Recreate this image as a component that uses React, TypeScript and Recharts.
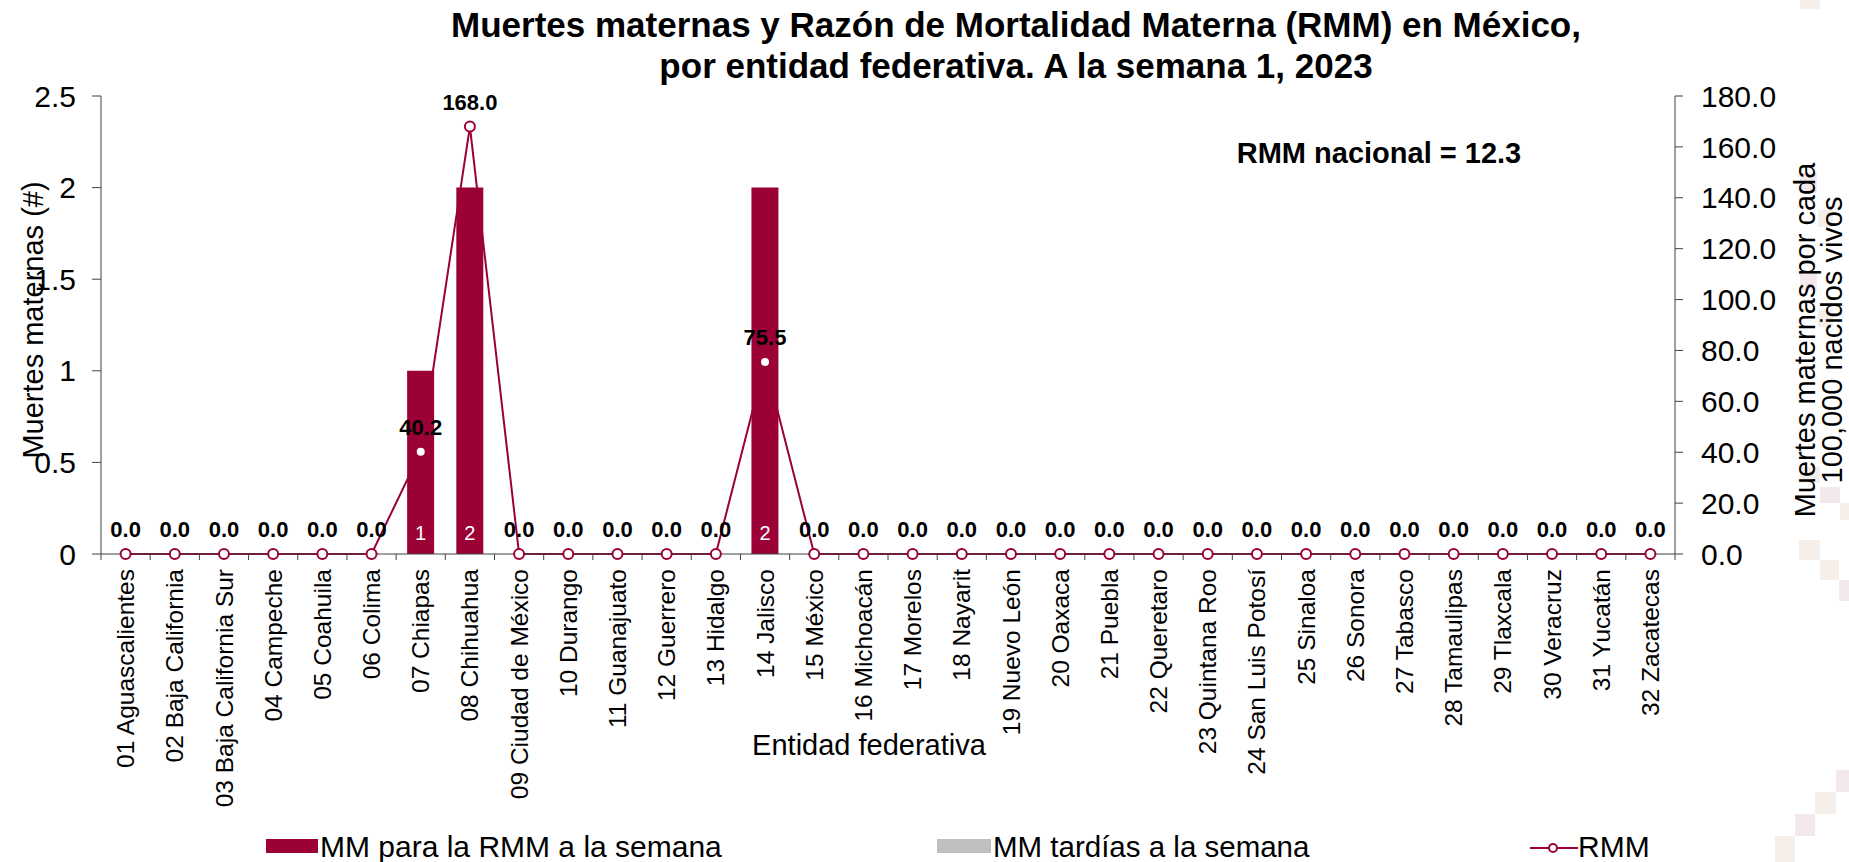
import { Bar, ComposedChart, LabelList, Line, XAxis, YAxis } from "recharts"

const entidades = [
    "01 Aguascalientes", "02 Baja California", "03 Baja California Sur", "04 Campeche",
    "05 Coahuila", "06 Colima", "07 Chiapas", "08 Chihuahua", "09 Ciudad de México",
    "10 Durango", "11 Guanajuato", "12 Guerrero", "13 Hidalgo", "14 Jalisco", "15 México",
    "16 Michoacán", "17 Morelos", "18 Nayarit", "19 Nuevo León", "20 Oaxaca", "21 Puebla",
    "22 Queretaro", "23 Quintana Roo", "24 San Luis Potosí", "25 Sinaloa", "26 Sonora",
    "27 Tabasco", "28 Tamaulipas", "29 Tlaxcala", "30 Veracruz", "31 Yucatán", "32 Zacatecas",
]

// muertes maternas para la RMM a la semana
const mmRmm = [0, 0, 0, 0, 0, 0, 1, 2, 0, 0, 0, 0, 0, 2, 0, 0, 0, 0, 0, 0, 0, 0, 0, 0, 0, 0, 0, 0, 0, 0, 0, 0]
// muertes maternas tardías
const mmTardias = [0, 0, 0, 0, 0, 0, 0, 0, 0, 0, 0, 0, 0, 0, 0, 0, 0, 0, 0, 0, 0, 0, 0, 0, 0, 0, 0, 0, 0, 0, 0, 0]
// razón de mortalidad materna
const rmm = [0, 0, 0, 0, 0, 0, 40.2, 168.0, 0, 0, 0, 0, 0, 75.5, 0, 0, 0, 0, 0, 0, 0, 0, 0, 0, 0, 0, 0, 0, 0, 0, 0, 0]

const leftTicks = [0, 0.5, 1, 1.5, 2, 2.5]
const rightTicks = [0, 20, 40, 60, 80, 100, 120, 140, 160, 180]

const CRIMSON = "#9b0036"
const GRAY = "#bfbfbf"
const AXIS = "#404040"
const FONT = "'Liberation Sans', Arial, sans-serif"

const data = entidades.map((name, i) => ({ name, mm: mmRmm[i], tardias: mmTardias[i], rmm: rmm[i] }))

// background squares on the right edge (slide decoration)
const decor = [
    [1800, 0, 20, 9, "#f6eee9"],
    [1800, 173, 17, 20, "#f3e8ec"], [1818, 210, 15, 17, "#f6eee9"],
    [1800, 273, 17, 17, "#f3e8ec"], [1818, 310, 15, 17, "#f6eee9"],
    [1800, 467, 20, 16, "#f6eee9"], [1820, 487, 20, 16, "#f3e8ec"], [1840, 503, 9, 17, "#f6eee9"],
    [1799, 540, 21, 20, "#f6eee9"], [1820, 560, 19, 20, "#f6eee9"], [1839, 580, 10, 21, "#f3e8ec"],
    [1836, 770, 13, 22, "#f3e8ec"], [1815, 792, 21, 22, "#f6eee9"], [1795, 814, 20, 22, "#f3e8ec"],
    [1775, 836, 20, 26, "#f6eee9"],
] as const

function EntidadTick(props: any) {
    const { x, y, payload, index } = props
    const half = payload?.offset || 24.6
    return (
        <g>
            <line x1={x - half} y1={y - 6} x2={x - half} y2={y} stroke={AXIS} />
            {index === entidades.length - 1 && (
                <line x1={x + half} y1={y - 6} x2={x + half} y2={y} stroke={AXIS} />
            )}
            <text
                x={x}
                y={y + 9}
                transform={`rotate(-90, ${x}, ${y + 9})`}
                textAnchor="end"
                dy="0.35em"
                fontSize={24.5}
                fill="#000"
                fontFamily={FONT}
            >
                {payload.value}
            </text>
        </g>
    )
}

function BarCount(props: any) {
    const { x, y, width, height, value } = props
    if (!value) return null
    return (
        <text x={x + width / 2} y={y + height - 21} textAnchor="middle" dominantBaseline="central"
            fill="#fff" fontSize={20} fontFamily={FONT}>
            {value}
        </text>
    )
}

const abs = (left: number, top: number): React.CSSProperties => ({ position: "absolute", left, top })

export default function App() {
    return (
        <div style={{ position: "absolute", left: 0, top: 0, width: 1849, height: 862, background: "#fff", fontFamily: FONT, overflow: "hidden" }}>
            {decor.map(([l, t, w, h, c], i) => (
                <div key={i} style={{ ...abs(l, t), width: w, height: h, background: c }} />
            ))}

            <div style={{ ...abs(1016, 4), transform: "translateX(-50%)", textAlign: "center", fontWeight: "bold", fontSize: 35, lineHeight: "41px", whiteSpace: "nowrap", color: "#000" }}>
                Muertes maternas y Razón de Mortalidad Materna (RMM) en México,<br />
                por entidad federativa. A la semana 1, 2023
            </div>

            <ComposedChart
                width={1849}
                height={862}
                data={data}
                margin={{ top: 96, right: 0, bottom: 108, left: 0 }}
                barSize={27}
                style={{ position: "absolute", left: 0, top: 0 }}
            >
                <XAxis
                    dataKey="name"
                    interval={0}
                    height={200}
                    tickSize={6}
                    tickMargin={0}
                    tickLine={false}
                    axisLine={{ stroke: AXIS }}
                    tick={<EntidadTick />}
                />
                <YAxis
                    yAxisId="left"
                    width={101}
                    domain={[0, 2.5]}
                    ticks={leftTicks}
                    tickSize={9}
                    tickMargin={16}
                    axisLine={{ stroke: AXIS }}
                    tickLine={{ stroke: AXIS }}
                    tick={{ fill: "#000", fontSize: 30, fontFamily: FONT }}
                />
                <YAxis
                    yAxisId="right"
                    orientation="right"
                    width={174}
                    domain={[0, 180]}
                    ticks={rightTicks}
                    tickSize={8}
                    tickMargin={18}
                    axisLine={{ stroke: AXIS }}
                    tickLine={{ stroke: AXIS }}
                    tickFormatter={(v: number) => v.toFixed(1)}
                    tick={{ fill: "#000", fontSize: 30, fontFamily: FONT }}
                />
                <Line
                    yAxisId="right"
                    dataKey="rmm"
                    stroke={CRIMSON}
                    strokeWidth={2}
                    dot={{ r: 5, fill: "#fff", stroke: CRIMSON, strokeWidth: 2 }}
                    isAnimationActive={false}
                    zIndex={250}
                />
                <Bar yAxisId="left" dataKey="mm" stackId="mm" fill={CRIMSON} isAnimationActive={false}>
                    <LabelList dataKey="mm" content={<BarCount />} />
                </Bar>
                <Bar yAxisId="left" dataKey="tardias" stackId="mm" fill={GRAY} isAnimationActive={false} />
                <Line
                    yAxisId="right"
                    dataKey="rmm"
                    stroke="none"
                    dot={{ r: 3.5, fill: "#fff", stroke: "none" }}
                    activeDot={false}
                    isAnimationActive={false}
                >
                    <LabelList
                        dataKey="rmm"
                        position="top"
                        offset={17}
                        formatter={(v: any) => Number(v).toFixed(1)}
                        style={{ fill: "#000", fontSize: 22, fontWeight: "bold", fontFamily: FONT }}
                    />
                </Line>
            </ComposedChart>

            <div style={{ ...abs(33, 320), transform: "translate(-50%, -50%) rotate(-90deg)", fontSize: 29, lineHeight: 1, whiteSpace: "nowrap" }}>
                Muertes maternas (#)
            </div>
            <div style={{ ...abs(1819, 340), transform: "translate(-50%, -50%) rotate(-90deg)", fontSize: 29, lineHeight: "27px", textAlign: "center", whiteSpace: "nowrap" }}>
                Muertes maternas por cada<br />100,000 nacidos vivos
            </div>
            <div style={{ ...abs(869, 745), transform: "translate(-50%, -50%)", fontSize: 29, lineHeight: 1, whiteSpace: "nowrap" }}>
                Entidad federativa
            </div>
            <div style={{ ...abs(1379, 153), transform: "translate(-50%, -50%)", fontSize: 29, lineHeight: 1, fontWeight: "bold", whiteSpace: "nowrap" }}>
                RMM nacional = 12.3
            </div>

            {/* legend */}
            <div style={{ ...abs(266, 839), width: 52, height: 14, background: CRIMSON }} />
            <div style={{ ...abs(320, 847), transform: "translateY(-50%)", fontSize: 30, lineHeight: "28px", whiteSpace: "nowrap" }}>
                MM para la RMM a la semana
            </div>
            <div style={{ ...abs(937, 839), width: 54, height: 14, background: GRAY }} />
            <div style={{ ...abs(993, 847), transform: "translateY(-50%)", fontSize: 29.5, lineHeight: "28px", whiteSpace: "nowrap" }}>
                MM tardías a la semana
            </div>
            <svg width={48} height={14} style={{ ...abs(1530, 841) }}>
                <line x1={0} y1={7} x2={48} y2={7} stroke={CRIMSON} strokeWidth={2} />
                <circle cx={23} cy={7} r={4} fill="#fff" stroke={CRIMSON} strokeWidth={2} />
            </svg>
            <div style={{ ...abs(1578, 847), transform: "translateY(-50%)", fontSize: 30, lineHeight: "28px", whiteSpace: "nowrap" }}>
                RMM
            </div>
        </div>
    )
}
